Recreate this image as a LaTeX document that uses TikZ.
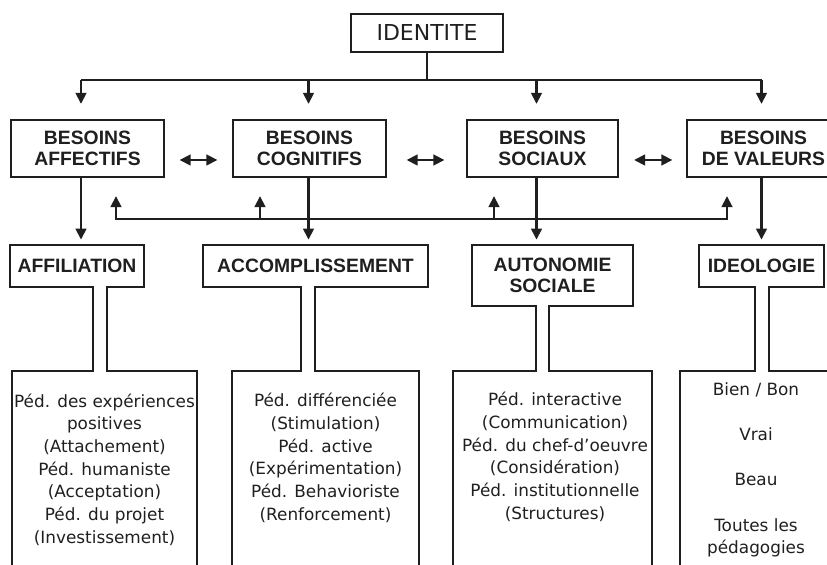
\documentclass[tikz,border=0pt]{standalone}
\usepackage{fontspec}
\setmainfont{DejaVu Sans}
\newfontfamily\headfont{Liberation Sans}
\usetikzlibrary{arrows.meta}

\begin{document}
\begin{tikzpicture}[
    color=black!88, line width=1.5pt,
    >={Triangle[length=2.2mm, width=2.1mm]},
    top/.style={draw, line width=1.2pt, font=\fontsize{12.5}{14}\selectfont, minimum width=3.04cm, minimum height=0.76cm, inner sep=0pt},
    need/.style={draw, line width=1.2pt, font=\headfont\bfseries\fontsize{11}{12}\selectfont, align=center, minimum width=3.06cm, minimum height=1.14cm, inner sep=0pt},
    head/.style={font=\headfont\bfseries\fontsize{11}{12.3}\selectfont, align=center, minimum height=0.8cm, inner sep=0pt},
    peda/.style={font=\fontsize{9.6}{12.9}\selectfont, align=center, inner sep=0pt},
    frame/.style={line width=1.2pt}
]
    \clip (0,0) rectangle (16.54,-11.30);

    \node[top](ident)                               at (8.54,-0.66) {IDENTITE};
    \node[need](aff)                                at (1.75,-2.97) {BESOINS\\AFFECTIFS};
    \node[need](cog)                                at (6.19,-2.97) {BESOINS\\COGNITIFS};
    \node[need, minimum width=3.02cm](soc)          at (10.85,-2.97) {BESOINS\\SOCIAUX};
    \node[need](val)                                at (15.27,-2.97) {BESOINS\\DE VALEURS};

    \node[head, minimum width=2.64cm](affil)        at (1.54,-5.32) {AFFILIATION};
    \node[head, minimum width=4.46cm](accomp)       at (6.31,-5.32) {ACCOMPLISSEMENT};
    \node[head, minimum width=3.18cm,
          minimum height=1.18cm](auto)              at (11.05,-5.51) {AUTONOMIE\\SOCIALE};
    \node[head, minimum width=2.46cm](ideo)         at (15.23,-5.32) {IDEOLOGIE};

    \node[peda](affil_p)    at (2.09,-9.39) {Péd. des expériences\\positives\\(Attachement)\\Péd. humaniste\\(Acceptation)\\Péd. du projet\\(Investissement)};
    \node[peda](accomp_p)   at (6.51,-9.16) {Péd. différenciée\\(Stimulation)\\Péd. active\\(Expérimentation)\\Péd. Behavioriste\\(Renforcement)};
    \node[peda](auto_p)     at (11.10,-9.14) {Péd. interactive\\(Communication)\\Péd. du chef-d’oeuvre\\(Considération)\\Péd. institutionnelle\\(Structures)};
    \node[peda](ideo_p)     at (15.12,-9.40) {Bien / Bon\\[0.45cm]Vrai\\[0.45cm]Beau\\[0.45cm]Toutes les\\pédagogies};

    % bus below the top box
    \coordinate (top1) at (1.62,-1.60);
    \coordinate (top2) at (6.17,-1.60);
    \coordinate (top3) at (10.73,-1.60);
    \coordinate (top4) at (15.23,-1.60);
    \draw (ident) -- (ident |- top1);
    \draw (top1) -- (top4);
    \draw[->, shorten >=0.3cm] (top1) -- (top1 |- aff.north);
    \draw[->, shorten >=0.3cm] (top2) -- (top2 |- cog.north);
    \draw[->, shorten >=0.3cm] (top3) -- (top3 |- soc.north);
    \draw[->, shorten >=0.3cm] (top4) -- (top4 |- val.north);

    % between the needs
    \draw[<->, shorten <=0.29cm, shorten >=0.29cm] ([yshift=-0.23cm]aff.east) -- ([yshift=-0.23cm]cog.west);
    \draw[<->, shorten <=0.39cm, shorten >=0.43cm] ([yshift=-0.23cm]cog.east) -- ([yshift=-0.23cm]soc.west);
    \draw[<->, shorten <=0.3cm, shorten >=0.27cm] ([yshift=-0.23cm]soc.east) -- ([yshift=-0.23cm]val.west);

    % needs down to the headings
    \draw[->, shorten >=0.1cm] (top1 |- aff.south) -- (top1 |- affil.north);
    \draw[->, shorten >=0.1cm] (top2 |- cog.south) -- (top2 |- accomp.north);
    \draw[->, shorten >=0.1cm] (top3 |- soc.south) -- (top3 |- auto.north);
    \draw[->, shorten >=0.1cm] (top4 |- val.south) -- (top4 |- ideo.north);

    % back up to the needs
    \coordinate (back1) at (2.32,-4.38);
    \coordinate (back2) at (5.20,-4.38);
    \coordinate (back3) at (9.88,-4.38);
    \coordinate (back4) at (14.54,-4.38);
    \draw[<->, shorten <=0.36cm, shorten >=0.36cm] (back1 |- aff.south) -- (back1) -- (back4) -- (back4 |- val.south);
    \draw[->, shorten >=0.36cm] (back2) -- (back2 |- cog.south);
    \draw[->, shorten >=0.36cm] (back3) -- (back3 |- soc.south);

    % heading, neck and open box
    \draw[frame] (0.24,-11.6) |- (1.86,-7.42) |- (affil.south west) |- (affil.north east)
        -- (affil.south east) -| (2.14,-7.42) -| (3.94,-11.6);
    \draw[frame] (4.64,-11.6) |- (6.02,-7.42) |- (accomp.south west) |- (accomp.north east)
        -- (accomp.south east) -| (6.30,-7.42) -| (8.38,-11.6);
    \draw[frame] (9.06,-11.6) |- (10.72,-7.42) |- (auto.south west) |- (auto.north east)
        -- (auto.south east) -| (10.98,-7.42) -| (13.04,-11.6);
    \draw[frame] (13.60,-11.6) |- (15.10,-7.42) |- (ideo.south west) |- (ideo.north east)
        -- (ideo.south east) -| (15.38,-7.42) -| (17.00,-11.6);
\end{tikzpicture}
\end{document}
